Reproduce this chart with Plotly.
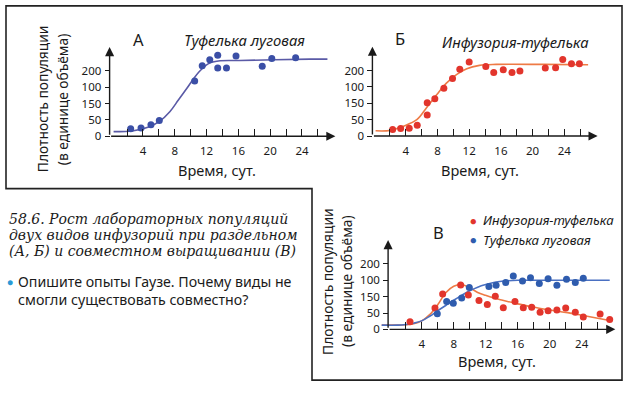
import plotly.graph_objects as go

W, H = 627, 396

# ---------------- data ----------------
# Panel A: Туфелька луговая (alone)
a_dot_day = [2.45, 3.75, 5.0, 6.05, 10.5, 11.45, 12.4, 13.4, 13.4, 14.5, 15.7, 19.0, 20.2, 23.2]
a_dot_val = [23, 25, 35, 48, 169, 216, 234, 248, 209, 209, 246, 214, 238, 240]
a_curve_day = [0.3, 2.8, 4.9, 6.1, 7.4, 8.45, 9.5, 10.5, 11.4, 12.4, 13.7, 16.2, 25.0, 27.2]
a_curve_val = [14, 17, 30, 46, 76, 111, 146, 181, 206, 224, 231, 232, 236, 236]

# Panel B: Инфузория-туфелька (alone)
b_dot_day = [2.35, 3.36, 4.44, 5.45, 6.71, 6.71, 7.67, 8.81, 9.9, 10.82, 12.0, 14.1, 15.1, 16.3,
             17.4, 18.4, 21.6, 22.9, 23.8, 24.9, 25.9]
b_dot_val = [20, 23, 24, 33, 64, 102, 114, 146, 176, 204, 226, 213, 194, 203,
             194, 199, 208, 209, 234, 221, 221]
b_curve_day = [0.2, 2.0, 3.7, 5.4, 6.6, 7.9, 9.1, 10.4, 11.7, 13.3, 15.4, 21.3, 27.0]
b_curve_val = [16, 17, 30, 50, 86, 126, 161, 188, 206, 216, 219, 219, 218]

# Panel C: both species together
c_red_day = [2.54, 5.66, 6.62, 8.87, 9.83, 11.16, 12.2, 13.2, 14.2, 15.66, 16.7, 17.75, 18.8,
             19.8, 20.9, 22.0, 23.2, 24.2, 26.3, 27.5]
c_red_val = [23, 65, 108, 136, 105, 88, 76, 101, 66, 85, 66, 68, 52,
             57, 59, 65, 52, 38, 47, 30]
c_blue_day = [5.95, 7.12, 7.95, 9.0, 9.95, 12.4, 13.3, 14.5, 15.45, 16.6, 17.6, 18.7, 19.8,
              20.9, 22.1, 23.2, 24.2]
c_blue_val = [48, 85, 80, 96, 128, 131, 135, 143, 163, 148, 158, 140, 155,
              135, 153, 143, 156]
c_red_curve_day = [-1.0, 1, 2, 3, 4, 5, 6, 7, 8, 9, 10, 11, 12, 13, 14, 16, 18, 20, 22, 24, 26, 27.5]
c_red_curve_val = [13, 13, 14, 17, 26, 45, 75, 112, 132, 137, 127, 113, 104, 96, 90, 78, 68, 59, 52, 43, 34, 27]
c_blue_curve_day = [-1.0, 1, 2, 3, 4, 5, 6, 7, 8, 9, 10, 11, 12, 13, 14, 16, 20, 27.5]
c_blue_curve_val = [13, 13, 15, 19, 26, 40, 57, 73, 89, 104, 118, 129, 137, 143, 147, 150, 150, 150]

# tick labels
x_tickvals = [2, 4, 6, 8, 10, 12, 14, 16, 18, 20, 22, 24, 26]
x_ticktext = ["", "4", "", "8", "", "12", "", "16", "", "20", "", "24", ""]
y_tickvals = [0, 50, 100, 150, 200]
y_ticktext = ["0", "50", "150", "100", "200"]

# ---------------- styling / layout ----------------
BLUE_DOT_A, BLUE_LINE_A = "#3b4fa6", "#5a5aa6"
RED_DOT, RED_LINE = "#e2352c", "#ee7a45"
BLUE_DOT_C, BLUE_LINE_C = "#2f5cae", "#4a70c2"
INK = "#1a1a1a"
SANS = "Noto Sans, Lato, sans-serif"

XR = [-1.3, 28.6]
YR = [0, 280]
X_ARROW_END, Y_ARROW_END, AXIS_AT = 28.2, 273, -0.2

# per panel pixel calibration: (x of day 0, px per day, y of value 0, px per unit)
calib = {
    "": (111.2, 7.95, 138.7, 0.3325),
    "2": (374.0, 7.93, 138.5, 0.333),
    "3": (389.7, 8.0, 335.3, 0.333),
}

fig = go.Figure()

def add(xs, ys, mode, color, ax, size=7, width=1.6):
    kw = dict(x=xs, y=ys, mode=mode, xaxis="x" + ax, yaxis="y" + ax, showlegend=False,
              hoverinfo="skip")
    if mode == "lines":
        kw["line"] = dict(color=color, width=width, shape="spline", smoothing=1.0)
    else:
        kw["marker"] = dict(color=color, size=size)
        kw["cliponaxis"] = False
    fig.add_trace(go.Scatter(**kw))

add(a_curve_day, a_curve_val, "lines", BLUE_LINE_A, "")
add(a_dot_day, a_dot_val, "markers", BLUE_DOT_A, "")
add(b_curve_day, b_curve_val, "lines", RED_LINE, "2")
add(b_dot_day, b_dot_val, "markers", RED_DOT, "2")
add(c_red_curve_day, c_red_curve_val, "lines", RED_LINE, "3")
add(c_blue_curve_day, c_blue_curve_val, "lines", BLUE_LINE_C, "3")
add(c_red_day, c_red_val, "markers", RED_DOT, "3")
add(c_blue_day, c_blue_val, "markers", BLUE_DOT_C, "3")

layout = dict(width=W, height=H, margin=dict(l=0, r=0, t=0, b=0),
              paper_bgcolor="white", plot_bgcolor="rgba(0,0,0,0)")
annotations = []
for ax, (x0, kx, y0, ky) in calib.items():
    xd = [(x0 + XR[0] * kx) / W, (x0 + XR[1] * kx) / W]
    yd = [1 - y0 / H, 1 - (y0 - YR[1] * ky) / H]
    layout["xaxis" + ax] = dict(domain=xd, range=XR, anchor="y" + ax, showgrid=False,
                                zeroline=False, showline=False, ticks="inside", ticklen=7,
                                tickwidth=1.4, tickcolor=INK, tickvals=x_tickvals,
                                ticktext=x_ticktext, ticklabelstandoff=6,
                                tickfont=dict(family=SANS, size=11.5, color=INK))
    layout["yaxis" + ax] = dict(domain=yd, range=YR, anchor="free",
                                position=(x0 + AXIS_AT * kx) / W, showgrid=False,
                                zeroline=False, showline=False, ticks="outside", ticklen=5,
                                tickwidth=1.4, tickcolor=INK, tickvals=y_tickvals,
                                ticktext=y_ticktext, ticklabelstandoff=1,
                                tickfont=dict(family=SANS, size=11.5, color=INK))
    xr, yr = "x" + ax, "y" + ax
    # axis lines with arrows
    annotations.append(dict(x=X_ARROW_END, y=0, ax=AXIS_AT, ay=0, xref=xr, yref=yr,
                            axref=xr, ayref=yr, text="", showarrow=True, arrowhead=2,
                            arrowsize=1.3, arrowwidth=1.4, arrowcolor=INK, standoff=0))
    annotations.append(dict(x=AXIS_AT, y=Y_ARROW_END, ax=AXIS_AT, ay=0, xref=xr, yref=yr,
                            axref=xr, ayref=yr, text="", showarrow=True, arrowhead=2,
                            arrowsize=1.3, arrowwidth=1.4, arrowcolor=INK, standoff=0))

def txt(px, py, text, size=14, family=SANS, angle=0, xanchor="center", color=INK, italic=False):
    t = f"<i>{text}</i>" if italic else text
    annotations.append(dict(x=px / W, y=1 - py / H, xref="paper", yref="paper", text=t,
                            showarrow=False, textangle=angle, xanchor=xanchor, yanchor="middle",
                            font=dict(family=family, size=size, color=color)))

# panel A
txt(138, 40, "А", size=16.5)
txt(244, 41, "Туфелька луговая", size=14.8, italic=True)
txt(42, 101, "Плотность популяции", size=13.8, angle=-90)
txt(62, 101, "(в единице объёма)", size=13.8, angle=-90)
txt(217, 173, "Время, сут.", size=14.5)
# panel B
txt(400, 39, "Б", size=16.5)
txt(515, 43, "Инфузория-туфелька", size=14.8, italic=True)
txt(480, 173, "Время, сут.", size=14.5)
# panel C
txt(438, 237, "В", size=16.5)
txt(473, 224, "●", size=11, color=RED_DOT)
txt(481, 224, "Инфузория-туфелька", size=13.2, xanchor="left", italic=True)
txt(473, 244, "●", size=11, color=BLUE_DOT_C)
txt(481, 244, "Туфелька луговая", size=13.2, xanchor="left", italic=True)
txt(328, 287, "Плотность популяции", size=13.8, angle=-90)
txt(347, 287, "(в единице объёма)", size=13.8, angle=-90)
txt(497, 368, "Время, сут.", size=14.5)

# caption text
SERIF = "DejaVu Serif, serif"
txt(7, 223, "58.6. Рост лабораторных популяций", size=14, family=SERIF, xanchor="left", italic=True)
txt(7, 239, "двух видов инфузорий при раздельном", size=14, family=SERIF, xanchor="left", italic=True)
txt(7, 256, "(А, Б) и совместном выращивании (В)", size=14, family=SERIF, xanchor="left", italic=True)
txt(10, 287, "●", size=10, color="#2a9ad6")
txt(16, 287, "Опишите опыты Гаузе. Почему виды не", size=14.2, xanchor="left")
txt(16, 305, "смогли существовать совместно?", size=14.2, xanchor="left")

layout["annotations"] = annotations

# frame outline
pts = [(6, 6), (622, 6), (622, 387), (312, 387), (312, 192), (6, 192)]
path = "M " + " L ".join(f"{x / W:.5f},{1 - y / H:.5f}" for x, y in pts) + " Z"
layout["shapes"] = [dict(type="path", path=path, xref="paper", yref="paper",
                         line=dict(color="#222", width=1.6))]

fig.update_layout(**layout)
fig.write_html("out.html", config={"displayModeBar": False},
               post_script="document.body.style.margin='0';document.body.style.overflow='hidden';")
